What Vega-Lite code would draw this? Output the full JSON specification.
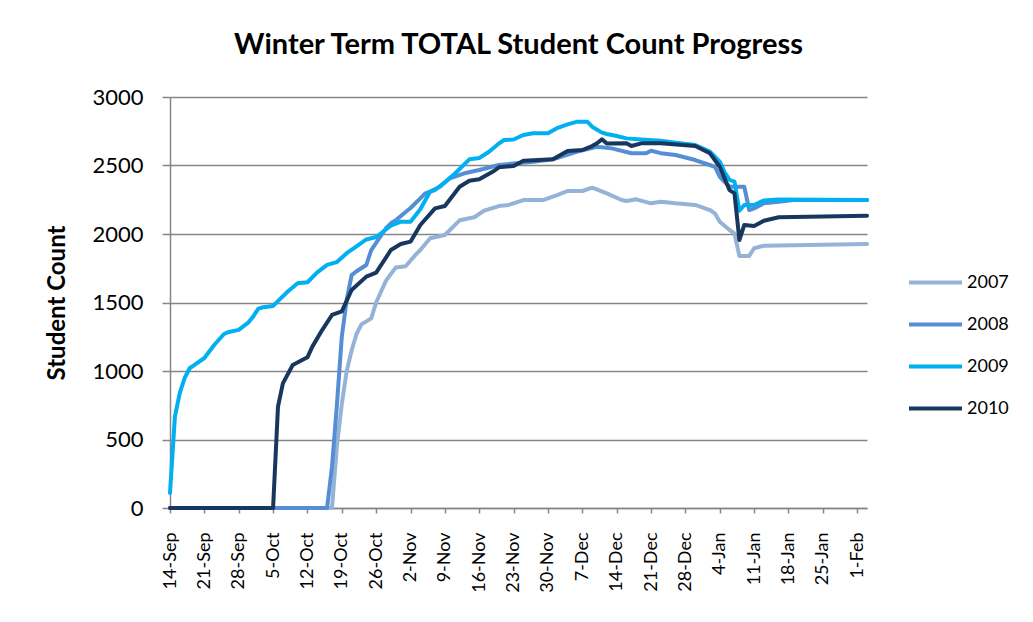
{
  "$schema": "https://vega.github.io/schema/vega-lite/v6.json",
  "width": 697,
  "height": 411,
  "autosize": {"type": "none"},
  "padding": {"left": 170, "top": 97, "right": 166, "bottom": 114},
  "background": "white",
  "config": {"view": {"stroke": null}, "font": "Lato"},
  "title": {"text": "Winter Term TOTAL Student Count Progress", "font": "Lato", "fontSize": 29, "fontWeight": "bold", "color": "#000000", "anchor": "middle", "frame": "group", "offset": 26},
  "data": {"values": [
    {"year": "2007", "date": "2009/09/14", "count": 0},
    {"year": "2007", "date": "2009/10/17", "count": 0},
    {"year": "2007", "date": "2009/10/18", "count": 450},
    {"year": "2007", "date": "2009/10/19", "count": 760},
    {"year": "2007", "date": "2009/10/20", "count": 1000},
    {"year": "2007", "date": "2009/10/21", "count": 1150},
    {"year": "2007", "date": "2009/10/22", "count": 1270},
    {"year": "2007", "date": "2009/10/23", "count": 1340},
    {"year": "2007", "date": "2009/10/25", "count": 1384},
    {"year": "2007", "date": "2009/10/26", "count": 1500},
    {"year": "2007", "date": "2009/10/28", "count": 1660},
    {"year": "2007", "date": "2009/10/30", "count": 1755},
    {"year": "2007", "date": "2009/11/01", "count": 1765},
    {"year": "2007", "date": "2009/11/03", "count": 1847},
    {"year": "2007", "date": "2009/11/04", "count": 1883},
    {"year": "2007", "date": "2009/11/06", "count": 1969},
    {"year": "2007", "date": "2009/11/09", "count": 1993},
    {"year": "2007", "date": "2009/11/12", "count": 2100},
    {"year": "2007", "date": "2009/11/15", "count": 2122},
    {"year": "2007", "date": "2009/11/17", "count": 2170},
    {"year": "2007", "date": "2009/11/20", "count": 2204},
    {"year": "2007", "date": "2009/11/22", "count": 2212},
    {"year": "2007", "date": "2009/11/25", "count": 2248},
    {"year": "2007", "date": "2009/11/29", "count": 2248},
    {"year": "2007", "date": "2009/12/02", "count": 2285},
    {"year": "2007", "date": "2009/12/04", "count": 2314},
    {"year": "2007", "date": "2009/12/07", "count": 2314},
    {"year": "2007", "date": "2009/12/09", "count": 2338},
    {"year": "2007", "date": "2009/12/12", "count": 2297},
    {"year": "2007", "date": "2009/12/15", "count": 2248},
    {"year": "2007", "date": "2009/12/16", "count": 2241},
    {"year": "2007", "date": "2009/12/18", "count": 2253},
    {"year": "2007", "date": "2009/12/21", "count": 2224},
    {"year": "2007", "date": "2009/12/23", "count": 2236},
    {"year": "2007", "date": "2009/12/26", "count": 2224},
    {"year": "2007", "date": "2009/12/30", "count": 2212},
    {"year": "2007", "date": "2010/01/02", "count": 2175},
    {"year": "2007", "date": "2010/01/03", "count": 2151},
    {"year": "2007", "date": "2010/01/04", "count": 2090},
    {"year": "2007", "date": "2010/01/06", "count": 2029},
    {"year": "2007", "date": "2010/01/07", "count": 2005},
    {"year": "2007", "date": "2010/01/08", "count": 1840},
    {"year": "2007", "date": "2010/01/10", "count": 1840},
    {"year": "2007", "date": "2010/01/11", "count": 1896},
    {"year": "2007", "date": "2010/01/13", "count": 1915},
    {"year": "2007", "date": "2010/01/22", "count": 1920},
    {"year": "2007", "date": "2010/02/03", "count": 1927},

    {"year": "2008", "date": "2009/09/14", "count": 0},
    {"year": "2008", "date": "2009/10/16", "count": 0},
    {"year": "2008", "date": "2009/10/17", "count": 300},
    {"year": "2008", "date": "2009/10/18", "count": 750},
    {"year": "2008", "date": "2009/10/19", "count": 1250},
    {"year": "2008", "date": "2009/10/20", "count": 1520},
    {"year": "2008", "date": "2009/10/21", "count": 1700},
    {"year": "2008", "date": "2009/10/22", "count": 1728},
    {"year": "2008", "date": "2009/10/24", "count": 1774},
    {"year": "2008", "date": "2009/10/25", "count": 1883},
    {"year": "2008", "date": "2009/10/28", "count": 2042},
    {"year": "2008", "date": "2009/10/29", "count": 2078},
    {"year": "2008", "date": "2009/10/30", "count": 2100},
    {"year": "2008", "date": "2009/11/01", "count": 2160},
    {"year": "2008", "date": "2009/11/02", "count": 2190},
    {"year": "2008", "date": "2009/11/04", "count": 2260},
    {"year": "2008", "date": "2009/11/05", "count": 2297},
    {"year": "2008", "date": "2009/11/07", "count": 2321},
    {"year": "2008", "date": "2009/11/10", "count": 2407},
    {"year": "2008", "date": "2009/11/13", "count": 2443},
    {"year": "2008", "date": "2009/11/16", "count": 2467},
    {"year": "2008", "date": "2009/11/20", "count": 2504},
    {"year": "2008", "date": "2009/11/27", "count": 2528},
    {"year": "2008", "date": "2009/12/01", "count": 2545},
    {"year": "2008", "date": "2009/12/06", "count": 2601},
    {"year": "2008", "date": "2009/12/10", "count": 2637},
    {"year": "2008", "date": "2009/12/13", "count": 2625},
    {"year": "2008", "date": "2009/12/17", "count": 2589},
    {"year": "2008", "date": "2009/12/20", "count": 2589},
    {"year": "2008", "date": "2009/12/21", "count": 2608},
    {"year": "2008", "date": "2009/12/23", "count": 2590},
    {"year": "2008", "date": "2009/12/26", "count": 2577},
    {"year": "2008", "date": "2009/12/30", "count": 2540},
    {"year": "2008", "date": "2010/01/03", "count": 2491},
    {"year": "2008", "date": "2010/01/04", "count": 2418},
    {"year": "2008", "date": "2010/01/06", "count": 2345},
    {"year": "2008", "date": "2010/01/09", "count": 2345},
    {"year": "2008", "date": "2010/01/10", "count": 2175},
    {"year": "2008", "date": "2010/01/11", "count": 2187},
    {"year": "2008", "date": "2010/01/13", "count": 2224},
    {"year": "2008", "date": "2010/01/16", "count": 2236},
    {"year": "2008", "date": "2010/01/19", "count": 2248},
    {"year": "2008", "date": "2010/02/03", "count": 2248},

    {"year": "2009", "date": "2009/09/14", "count": 110},
    {"year": "2009", "date": "2009/09/15", "count": 667},
    {"year": "2009", "date": "2009/09/16", "count": 840},
    {"year": "2009", "date": "2009/09/17", "count": 950},
    {"year": "2009", "date": "2009/09/18", "count": 1020},
    {"year": "2009", "date": "2009/09/19", "count": 1045},
    {"year": "2009", "date": "2009/09/21", "count": 1095},
    {"year": "2009", "date": "2009/09/23", "count": 1190},
    {"year": "2009", "date": "2009/09/25", "count": 1270},
    {"year": "2009", "date": "2009/09/26", "count": 1285},
    {"year": "2009", "date": "2009/09/28", "count": 1300},
    {"year": "2009", "date": "2009/09/30", "count": 1355},
    {"year": "2009", "date": "2009/10/01", "count": 1400},
    {"year": "2009", "date": "2009/10/02", "count": 1455},
    {"year": "2009", "date": "2009/10/03", "count": 1465},
    {"year": "2009", "date": "2009/10/05", "count": 1475},
    {"year": "2009", "date": "2009/10/08", "count": 1580},
    {"year": "2009", "date": "2009/10/10", "count": 1640},
    {"year": "2009", "date": "2009/10/12", "count": 1648},
    {"year": "2009", "date": "2009/10/14", "count": 1720},
    {"year": "2009", "date": "2009/10/16", "count": 1775},
    {"year": "2009", "date": "2009/10/18", "count": 1795},
    {"year": "2009", "date": "2009/10/20", "count": 1860},
    {"year": "2009", "date": "2009/10/22", "count": 1910},
    {"year": "2009", "date": "2009/10/24", "count": 1960},
    {"year": "2009", "date": "2009/10/26", "count": 1978},
    {"year": "2009", "date": "2009/10/29", "count": 2060},
    {"year": "2009", "date": "2009/10/31", "count": 2090},
    {"year": "2009", "date": "2009/11/02", "count": 2090},
    {"year": "2009", "date": "2009/11/04", "count": 2180},
    {"year": "2009", "date": "2009/11/06", "count": 2310},
    {"year": "2009", "date": "2009/11/08", "count": 2345},
    {"year": "2009", "date": "2009/11/11", "count": 2440},
    {"year": "2009", "date": "2009/11/14", "count": 2545},
    {"year": "2009", "date": "2009/11/16", "count": 2555},
    {"year": "2009", "date": "2009/11/18", "count": 2600},
    {"year": "2009", "date": "2009/11/20", "count": 2660},
    {"year": "2009", "date": "2009/11/21", "count": 2686},
    {"year": "2009", "date": "2009/11/23", "count": 2690},
    {"year": "2009", "date": "2009/11/25", "count": 2723},
    {"year": "2009", "date": "2009/11/27", "count": 2735},
    {"year": "2009", "date": "2009/11/30", "count": 2735},
    {"year": "2009", "date": "2009/12/02", "count": 2775},
    {"year": "2009", "date": "2009/12/04", "count": 2800},
    {"year": "2009", "date": "2009/12/06", "count": 2820},
    {"year": "2009", "date": "2009/12/08", "count": 2820},
    {"year": "2009", "date": "2009/12/09", "count": 2783},
    {"year": "2009", "date": "2009/12/11", "count": 2740},
    {"year": "2009", "date": "2009/12/12", "count": 2730},
    {"year": "2009", "date": "2009/12/14", "count": 2715},
    {"year": "2009", "date": "2009/12/16", "count": 2698},
    {"year": "2009", "date": "2009/12/19", "count": 2690},
    {"year": "2009", "date": "2009/12/23", "count": 2680},
    {"year": "2009", "date": "2009/12/26", "count": 2667},
    {"year": "2009", "date": "2009/12/30", "count": 2650},
    {"year": "2009", "date": "2010/01/02", "count": 2601},
    {"year": "2009", "date": "2010/01/04", "count": 2528},
    {"year": "2009", "date": "2010/01/05", "count": 2450},
    {"year": "2009", "date": "2010/01/06", "count": 2395},
    {"year": "2009", "date": "2010/01/07", "count": 2383},
    {"year": "2009", "date": "2010/01/08", "count": 2170},
    {"year": "2009", "date": "2010/01/09", "count": 2212},
    {"year": "2009", "date": "2010/01/11", "count": 2212},
    {"year": "2009", "date": "2010/01/13", "count": 2245},
    {"year": "2009", "date": "2010/01/16", "count": 2252},
    {"year": "2009", "date": "2010/02/03", "count": 2248},

    {"year": "2010", "date": "2009/09/14", "count": 0},
    {"year": "2010", "date": "2009/10/05", "count": 0},
    {"year": "2010", "date": "2009/10/06", "count": 740},
    {"year": "2010", "date": "2009/10/07", "count": 910},
    {"year": "2010", "date": "2009/10/09", "count": 1044},
    {"year": "2010", "date": "2009/10/12", "count": 1100},
    {"year": "2010", "date": "2009/10/13", "count": 1178},
    {"year": "2010", "date": "2009/10/15", "count": 1299},
    {"year": "2010", "date": "2009/10/17", "count": 1409},
    {"year": "2010", "date": "2009/10/19", "count": 1435},
    {"year": "2010", "date": "2009/10/21", "count": 1591},
    {"year": "2010", "date": "2009/10/24", "count": 1689},
    {"year": "2010", "date": "2009/10/26", "count": 1718},
    {"year": "2010", "date": "2009/10/29", "count": 1883},
    {"year": "2010", "date": "2009/10/31", "count": 1927},
    {"year": "2010", "date": "2009/11/02", "count": 1944},
    {"year": "2010", "date": "2009/11/04", "count": 2066},
    {"year": "2010", "date": "2009/11/07", "count": 2187},
    {"year": "2010", "date": "2009/11/09", "count": 2204},
    {"year": "2010", "date": "2009/11/12", "count": 2345},
    {"year": "2010", "date": "2009/11/14", "count": 2389},
    {"year": "2010", "date": "2009/11/16", "count": 2399},
    {"year": "2010", "date": "2009/11/19", "count": 2460},
    {"year": "2010", "date": "2009/11/20", "count": 2487},
    {"year": "2010", "date": "2009/11/23", "count": 2496},
    {"year": "2010", "date": "2009/11/25", "count": 2535},
    {"year": "2010", "date": "2009/12/01", "count": 2545},
    {"year": "2010", "date": "2009/12/04", "count": 2606},
    {"year": "2010", "date": "2009/12/07", "count": 2613},
    {"year": "2010", "date": "2009/12/09", "count": 2642},
    {"year": "2010", "date": "2009/12/10", "count": 2662},
    {"year": "2010", "date": "2009/12/11", "count": 2691},
    {"year": "2010", "date": "2009/12/12", "count": 2660},
    {"year": "2010", "date": "2009/12/16", "count": 2662},
    {"year": "2010", "date": "2009/12/17", "count": 2642},
    {"year": "2010", "date": "2009/12/19", "count": 2662},
    {"year": "2010", "date": "2009/12/23", "count": 2662},
    {"year": "2010", "date": "2009/12/30", "count": 2642},
    {"year": "2010", "date": "2010/01/02", "count": 2589},
    {"year": "2010", "date": "2010/01/04", "count": 2491},
    {"year": "2010", "date": "2010/01/06", "count": 2320},
    {"year": "2010", "date": "2010/01/07", "count": 2297},
    {"year": "2010", "date": "2010/01/08", "count": 1956},
    {"year": "2010", "date": "2010/01/09", "count": 2066},
    {"year": "2010", "date": "2010/01/11", "count": 2058},
    {"year": "2010", "date": "2010/01/13", "count": 2097},
    {"year": "2010", "date": "2010/01/16", "count": 2122},
    {"year": "2010", "date": "2010/01/22", "count": 2126},
    {"year": "2010", "date": "2010/02/03", "count": 2134}
  ]},
  "mark": {"type": "line", "strokeWidth": 4, "strokeJoin": "round", "strokeCap": "round"},
  "encoding": {
    "x": {
      "field": "date", "type": "temporal",
      "scale": {"domain": [{"year": 2009, "month": 9, "date": 14}, {"year": 2010, "month": 2, "date": 3}]},
      "axis": {
        "values": [
          {"year": 2009, "month": 9, "date": 14}, {"year": 2009, "month": 9, "date": 21}, {"year": 2009, "month": 9, "date": 28},
          {"year": 2009, "month": 10, "date": 5}, {"year": 2009, "month": 10, "date": 12}, {"year": 2009, "month": 10, "date": 19},
          {"year": 2009, "month": 10, "date": 26}, {"year": 2009, "month": 11, "date": 2}, {"year": 2009, "month": 11, "date": 9},
          {"year": 2009, "month": 11, "date": 16}, {"year": 2009, "month": 11, "date": 23}, {"year": 2009, "month": 11, "date": 30},
          {"year": 2009, "month": 12, "date": 7}, {"year": 2009, "month": 12, "date": 14}, {"year": 2009, "month": 12, "date": 21},
          {"year": 2009, "month": 12, "date": 28}, {"year": 2010, "month": 1, "date": 4}, {"year": 2010, "month": 1, "date": 11},
          {"year": 2010, "month": 1, "date": 18}, {"year": 2010, "month": 1, "date": 25}, {"year": 2010, "month": 2, "date": 1}
        ],
        "format": "%-d-%b",
        "title": null,
        "grid": false,
        "labelAngle": -90,
        "labelAlign": "right",
        "labelBaseline": "middle",
        "labelFont": "Lato",
        "labelFontSize": 18,
        "labelColor": "#000000",
        "labelPadding": 19,
        "labelFlush": false,
        "labelOverlap": false,
        "tickSize": 5,
        "tickColor": "#868686",
        "tickWidth": 1.5,
        "domainColor": "#868686",
        "domainWidth": 1.5
      }
    },
    "y": {
      "field": "count", "type": "quantitative",
      "scale": {"domain": [0, 3000], "nice": false},
      "axis": {
        "values": [0, 500, 1000, 1500, 2000, 2500, 3000],
        "format": "d",
        "title": "Student Count",
        "titleFont": "Lato",
        "titleFontSize": 24,
        "titleFontWeight": "bold",
        "titleColor": "#000000",
        "titlePadding": 22,
        "grid": true,
        "gridColor": "#868686",
        "gridWidth": 1.5,
        "labelFont": "Lato",
        "labelFontSize": 22,
        "labelColor": "#000000",
        "labelPadding": 19,
        "tickSize": 8,
        "tickColor": "#868686",
        "tickWidth": 1.5,
        "domainColor": "#868686",
        "domainWidth": 1.5
      }
    },
    "color": {
      "field": "year", "type": "nominal",
      "scale": {"domain": ["2007", "2008", "2009", "2010"], "range": ["#95B3D7", "#558ED5", "#00B0F0", "#17375E"]},
      "legend": {
        "title": null,
        "orient": "none",
        "legendX": 737,
        "legendY": 157,
        "padding": 0,
        "symbolType": "stroke",
        "symbolSize": 2809,
        "symbolStrokeWidth": 4,
        "labelFont": "Lato",
        "labelFontSize": 18,
        "labelColor": "#000000",
        "labelOffset": 3,
        "rowPadding": 4
      }
    }
  }
}
